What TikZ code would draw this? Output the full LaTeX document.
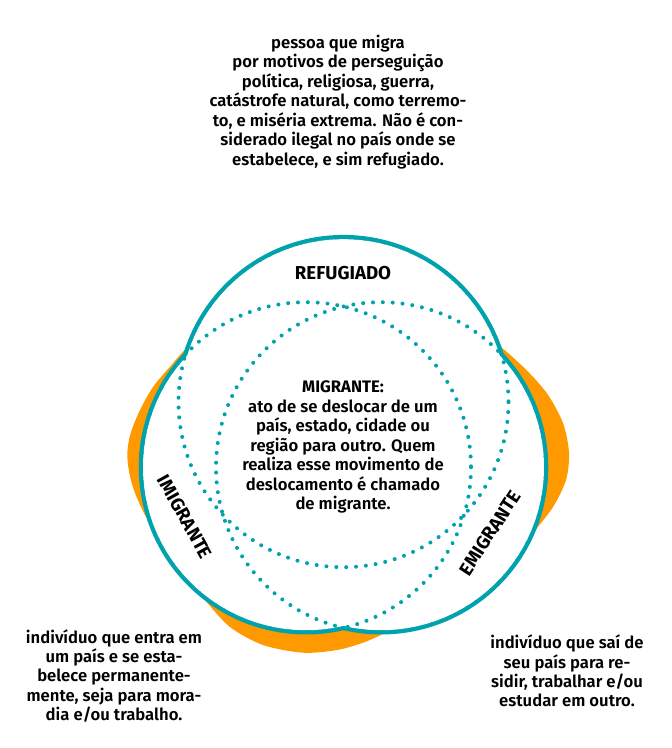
\documentclass[tikz,border=0pt]{standalone}
\usepackage{fontspec}
\setmainfont{Fira Sans SemiBold}[BoldFont={Fira Sans Bold}]
\definecolor{azul}{RGB}{0,163,173}
\definecolor{laranja}{RGB}{255,153,0}
\begin{document}
\begin{tikzpicture}[x=0.75pt,y=-0.75pt,
  every node/.style={font=\fontsize{12.5}{14.6}\selectfont,align=center,inner sep=0pt},
  rotulo/.style={font=\fontsize{14}{15}\selectfont\bfseries},
  pontilhado/.style={draw=azul,line width=3pt,line cap=round,dash pattern=on 0pt off 7.4pt}]
\useasboundingbox (0,0) rectangle (671,748);
% centros dos tres circulos
\coordinate (ref) at (343.5,402.2);
\coordinate (imi) at (306,467.2);
\coordinate (emi) at (381,467.2);
% manchas laranja
\fill[laranja] plot[smooth] coordinates {(200,346) (186.7,348.3) (170,366.7) (153,387) (140,410) (130.7,433) (127.3,453) (129.3,473) (135,493) (145,515) (160,540)} -- cycle;
\fill[laranja] plot[smooth] coordinates {(485,345) (495,342.7) (523,366.7) (546.7,393) (563,423) (569,453) (566,480) (553,507) (533,533) (520,550)} -- cycle;
\fill[laranja] plot[smooth] coordinates {(195,585) (205,600) (230,627) (263,645) (303,652.7) (337,650) (363,642.7) (383,634) (400,625)} -- cycle;
% contorno externo e circulos pontilhados
\foreach \c in {ref,imi,emi} \filldraw[fill=white,draw=azul,line width=6.4pt] (\c) circle[radius=163];
\foreach \c in {ref,imi,emi} \fill[white] (\c) circle[radius=163];
\foreach \c in {ref,imi,emi} \draw[pontilhado] (\c) circle[radius=165];
% textos
\node (txtref) at (338,102) {pessoa que migra\\por motivos de perseguição\\política, religiosa, guerra,\\catástrofe natural, como terremo-\\to, e miséria extrema. Não é con-\\siderado ilegal no país onde se\\estabelece, e sim refugiado.};
\node[rotulo] (rotref) at (343,273) {REFUGIADO};
\node (txtmig) at (343,447) {\textbf{MIGRANTE:}\\ato de se deslocar de um\\país, estado, cidade ou\\região para outro. Quem\\realiza esse movimento de\\deslocamento é chamado\\de migrante.};
\node[rotulo,rotate=-61] (rotimi) at (185,517) {IMIGRANTE};
\node[rotulo,rotate=57] (rotemi) at (490,533) {EMIGRANTE};
\node (txtimi) at (114,676) {indivíduo que entra em\\um país e se esta-\\belece permanente-\\mente, seja para mora-\\dia e/ou trabalho.};
\node (txtemi) at (567,671) {indivíduo que saí de\\seu país para re-\\sidir, trabalhar e/ou\\estudar em outro.};
\end{tikzpicture}
\end{document}
